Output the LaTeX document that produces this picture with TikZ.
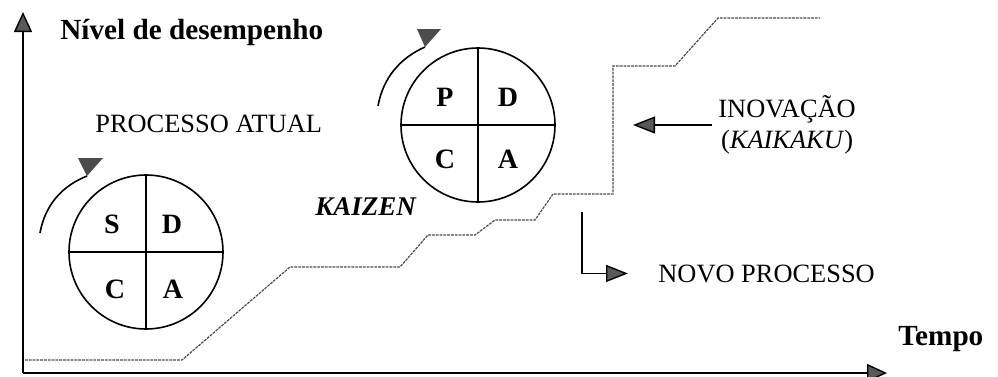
\documentclass[tikz,border=0pt]{standalone}
\usepackage{fontspec}
\setmainfont{Liberation Serif}
\usetikzlibrary{arrows.meta,positioning}

\begin{document}
\begin{tikzpicture}[x=0.5pt, y=-0.5pt,
    axis/.style={line width=0.7pt, -{Triangle[length=10pt,width=9pt,fill=black!65]}},
    pointer/.style={line width=0.7pt, -{Triangle[length=11pt,width=8.5pt,fill=black!65]}},
    steps/.style={line width=0.6pt, black!70, dash pattern=on 1.4pt off 0.5pt},
    cycle/.style={circle, draw, line width=0.8pt, minimum size=77pt, inner sep=0pt},
    turn/.style={line width=0.8pt},
    lbl/.style={font=\fontsize{13.2}{15.5}\selectfont, inner sep=3pt},
    title/.style={font=\fontsize{14.6}{17}\selectfont\bfseries, anchor=base west, inner sep=0pt},
    letter/.style={font=\fontsize{14}{17}\selectfont\bfseries, anchor=base, inner sep=0pt}]
  \useasboundingbox (0,0) rectangle (998,376);

  % axes
  \coordinate (origin) at (23,373);
  \coordinate (ytop) at (23,12);
  \coordinate (xend) at (887,373);
  \draw[axis] (origin) -- (ytop);
  \draw[axis] (origin) -- (xend);
  \node[title] (nivel) at (60,39) {Nível de desempenho};
  \node[title] (tempo) at (898,345) {Tempo};

  % improvement steps
  \draw[steps] (25,360) -- (182,360) -- (290,267) -- (400,267) -- (428,235)
    -- (475,235) -- (495,220) -- (535,220) -- (553,194) -- (613,194)
    -- (613,66) -- (675,66) -- (718,18) -- (820,18);

  % SDCA
  \node[cycle] (sdca) at (146,252) {};
  \draw[line width=0.8pt] (sdca.north) -- (sdca.south);
  \draw[line width=0.8pt] (sdca.west) -- (sdca.east);
  \node[letter] (s) at (112,233) {S};
  \node[letter] (d1) at (172,233) {D};
  \node[letter] (c1) at (115,298) {C};
  \node[letter] (a1) at (173,298) {A};
  \draw[turn] (40,233) .. controls (45,205) and (62,186) .. (87,176);
  \fill[black!70] (87,176) -- ++(-9,-18) -- ++(25,0) -- cycle;
  \node[lbl, anchor=base west, inner sep=0pt] (atual) at (95,132) {PROCESSO ATUAL};

  % PDCA
  \node[cycle] (pdca) at (478,125) {};
  \draw[line width=0.8pt] (pdca.north) -- (pdca.south);
  \draw[line width=0.8pt] (pdca.west) -- (pdca.east);
  \node[letter] (p) at (445,106) {P};
  \node[letter] (d2) at (508,106) {D};
  \node[letter] (c2) at (445,168) {C};
  \node[letter] (a2) at (508,168) {A};
  \draw[turn] (378,106) .. controls (383,78) and (400,58) .. (425,47);
  \fill[black!70] (425,47) -- ++(-8,-18) -- ++(24,0) -- cycle;
  \node[letter, anchor=base west, font=\fontsize{13.5}{16}\selectfont\bfseries\itshape] (kaizen) at (315,215) {KAIZEN};

  % inovacao
  \node[lbl, anchor=west, align=center] (inovacao) at (712,125) {INOVAÇÃO\\(\textit{KAIKAKU})};
  \coordinate (jump) at (633,125);
  \draw[pointer] (inovacao.west) -- (jump);

  \node[lbl, anchor=base west, inner sep=0pt] (novo) at (658,282) {NOVO PROCESSO};
  \coordinate (novostart) at (582,212);
  \draw[pointer] (novostart) |- ([xshift=-15pt]novo.west);
\end{tikzpicture}
\end{document}
